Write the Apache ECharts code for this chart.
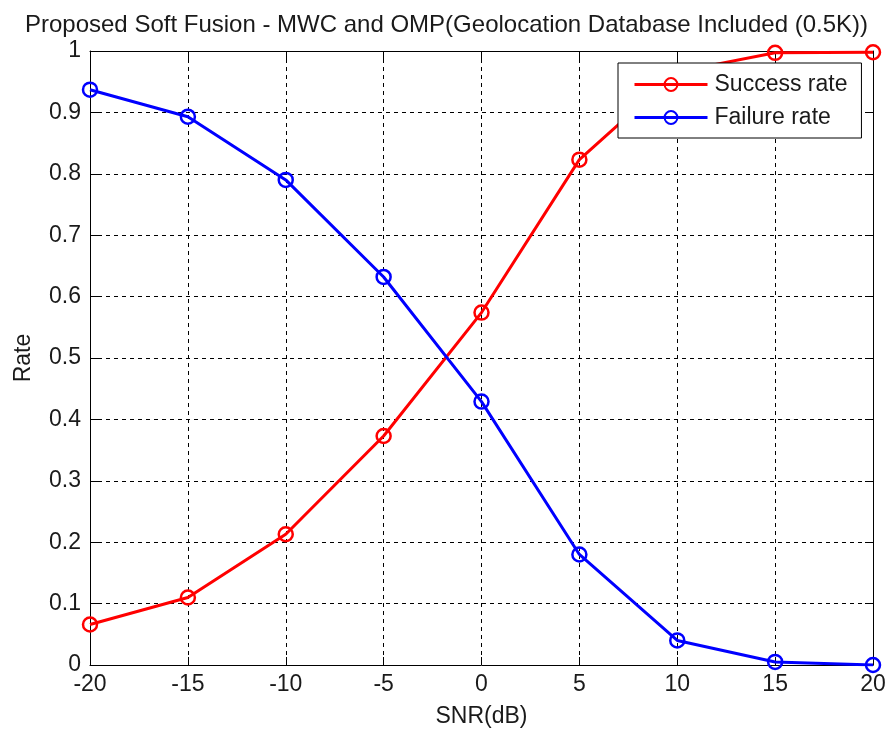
<!DOCTYPE html>
<html>
<head>
<meta charset="utf-8">
<script src="https://cdn.jsdelivr.net/npm/echarts@6/dist/echarts.min.js"></script>
<style>
  html, body { margin: 0; padding: 0; background: #fff; }
  #chart { width: 893px; height: 733px; }
</style>
</head>
<body>
<div id="chart"></div>
<script>
// SNR steps (dB)
const snr = [-20, -15, -10, -5, 0, 5, 10, 15, 20];
// rates
const successRate = [0.066, 0.110, 0.213, 0.373, 0.574, 0.823, 0.966, 0.997, 0.998];
const failureRate = [0.937, 0.893, 0.790, 0.632, 0.429, 0.180, 0.040, 0.005, 0.000];

const FONT = 'Liberation Sans';
const TEXT = '#1a1a1a';
const pairs = (ys) => snr.map((x, i) => [x, ys[i]]);

const chartDom = document.getElementById('chart');
const myChart = echarts.init(chartDom);

const tick = { show: true, inside: true, length: 8, lineStyle: { color: '#000' } };
const frameLine = { show: true, onZero: false, lineStyle: { color: '#000', width: 1 } };
const dashGrid = { show: true, lineStyle: { color: '#000', type: [4, 4], width: 1 } };

const option = {
  backgroundColor: '#fff',
  animation: false,
  title: {
    text: 'Proposed Soft Fusion - MWC and OMP(Geolocation Database Included (0.5K))',
    left: 'center',
    top: 8,
    textStyle: { fontFamily: FONT, fontSize: 24, fontWeight: 'normal', color: TEXT },
  },
  grid: { left: 90, right: 20, top: 51, bottom: 67, show: false },
  legend: {
    orient: 'vertical',
    left: 618,
    top: 63,
    padding: [10, 14, 9, 15],
    itemWidth: 73,
    itemHeight: 16,
    itemGap: 10,
    backgroundColor: '#fff',
    borderColor: '#000',
    borderWidth: 1,
    lineStyle: { width: 3 },
    textStyle: { fontFamily: FONT, fontSize: 23, color: TEXT, padding: [0, 0, 0, 2] },
    data: ['Success rate', 'Failure rate'],
  },
  xAxis: [
    {
      type: 'value',
      min: -20,
      max: 20,
      interval: 5,
      name: 'SNR(dB)',
      nameLocation: 'middle',
      nameGap: 40,
      nameTextStyle: { fontFamily: FONT, fontSize: 23, color: TEXT },
      axisLine: frameLine,
      axisTick: tick,
      axisLabel: { fontFamily: FONT, fontSize: 23, color: TEXT, margin: 8 },
      splitLine: dashGrid,
    },
    {
      type: 'value',
      position: 'top',
      min: -20,
      max: 20,
      interval: 5,
      axisLine: frameLine,
      axisTick: tick,
      axisLabel: { show: false },
      splitLine: { show: false },
    },
  ],
  yAxis: [
    {
      type: 'value',
      min: 0,
      max: 1,
      interval: 0.1,
      name: 'Rate',
      nameLocation: 'middle',
      nameGap: 55,
      nameTextStyle: { fontFamily: FONT, fontSize: 23, color: TEXT },
      axisLine: frameLine,
      axisTick: tick,
      axisLabel: { fontFamily: FONT, fontSize: 23, color: TEXT, margin: 9 },
      splitLine: dashGrid,
    },
    {
      type: 'value',
      position: 'right',
      min: 0,
      max: 1,
      interval: 0.1,
      axisLine: frameLine,
      axisTick: tick,
      axisLabel: { show: false },
      splitLine: { show: false },
    },
  ],
  series: [
    {
      name: 'Success rate',
      type: 'line',
      data: pairs(successRate),
      symbol: 'circle',
      symbolSize: 14,
      lineStyle: { color: '#ff0000', width: 3 },
      itemStyle: { color: 'rgba(0,0,0,0)', borderColor: '#ff0000', borderWidth: 2.5 },
      z: 3,
    },
    {
      name: 'Failure rate',
      type: 'line',
      data: pairs(failureRate),
      symbol: 'circle',
      symbolSize: 14,
      lineStyle: { color: '#0000ff', width: 3 },
      itemStyle: { color: 'rgba(0,0,0,0)', borderColor: '#0000ff', borderWidth: 2.5 },
      z: 3,
    },
  ],
};

option && myChart.setOption(option);
</script>
</body>
</html>
